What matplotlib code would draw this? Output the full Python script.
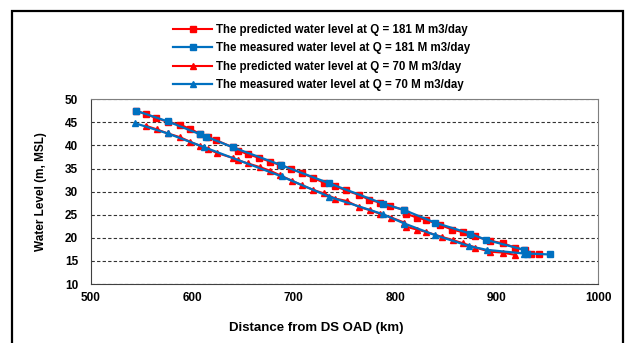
import matplotlib.pyplot as plt
from matplotlib.patches import Rectangle

# predicted / measured water level, Q = 181 M m3/day
d_pred181 = [545, 554, 564, 576, 588, 598, 608, 616, 623, 640, 645, 655, 666, 677, 686, 697, 708,
             719, 730, 741, 751, 764, 774, 785, 795, 809, 811, 821, 830, 844, 856, 867, 879, 893,
             906, 918, 928, 934, 942]
wl_pred181 = [47.5, 46.8, 46.0, 45.1, 44.5, 43.6, 42.5, 41.8, 41.2, 39.6, 38.9, 38.1, 37.3, 36.5,
              35.8, 35.0, 34.0, 33.0, 31.9, 31.2, 30.3, 29.3, 28.3, 27.6, 26.9, 26.0, 25.2, 24.4,
              23.9, 22.8, 21.8, 21.2, 20.3, 19.4, 18.8, 17.9, 17.3, 16.5, 16.5]
d_meas181 = [545, 576, 608, 614, 640, 687, 735, 788, 809, 839, 874, 889, 927, 930, 952]
wl_meas181 = [47.5, 45.2, 42.4, 41.9, 39.6, 35.8, 31.8, 27.4, 26.0, 23.3, 20.9, 19.6, 17.4, 16.6, 16.4]

# Q = 70 M m3/day
d_pred70 = [554, 565, 576, 588, 598, 608, 616, 624, 640, 645, 655, 667, 677, 686, 698, 708, 719,
            730, 741, 752, 764, 775, 785, 796, 809, 811, 821, 830, 846, 857, 867, 879, 893, 906, 918]
wl_pred70 = [44.3, 43.5, 42.6, 41.8, 40.8, 39.9, 39.2, 38.4, 37.3, 36.8, 36.1, 35.3, 34.5, 33.6,
             32.4, 31.4, 30.4, 29.6, 28.5, 28.0, 26.7, 26.0, 25.2, 24.4, 23.3, 22.4, 21.8, 21.3,
             20.2, 19.5, 18.8, 17.9, 17.0, 16.8, 16.3]
d_meas70 = [544, 576, 612, 688, 735, 788, 809, 839, 873, 890, 927]
wl_meas70 = [44.8, 42.6, 39.6, 33.3, 28.9, 25.1, 23.1, 20.6, 18.2, 17.4, 16.6]

labels = ['The predicted water level at Q = 181 M m3/day',
          'The measured water level at Q = 181 M m3/day',
          'The predicted water level at Q = 70 M m3/day',
          'The measured water level at Q = 70 M m3/day']

red = '#FF0000'
blue = '#0070C0'

plt.rcParams['font.family'] = ['Liberation Sans', 'DejaVu Sans']
plt.rcParams['font.weight'] = 'bold'

fig = plt.figure(figsize=(6.28, 3.43), dpi=100)
fig.patches.append(Rectangle((12 / 628, -0.1), 611 / 628, 1.1 - 11 / 343, transform=fig.transFigure,
                             fill=False, edgecolor='black', linewidth=1.6))

ax = fig.add_axes([0.1444, 0.172, 0.8083, 0.5385])
l1, = ax.plot(d_pred181, wl_pred181, color=red, marker='s', markersize=5, linewidth=1.5)
l3, = ax.plot(d_pred70, wl_pred70, color=red, marker='^', markersize=5, linewidth=1.5)
l2, = ax.plot(d_meas181, wl_meas181, color=blue, marker='s', markersize=3.8, linewidth=1.6)
l4, = ax.plot(d_meas70, wl_meas70, color=blue, marker='^', markersize=3.8, linewidth=1.6)

ax.set_xlim(500, 1000)
ax.set_ylim(10, 50)
ax.set_xticks(range(500, 1001, 100))
ax.set_yticks(range(10, 51, 5))
ax.tick_params(length=0, labelsize=8.5)
ax.tick_params(axis='x', pad=6)
ax.tick_params(axis='y', pad=9)
ax.yaxis.grid(True, linestyle=(0, (3, 2)), color='#333333', linewidth=0.8)
for s in ax.spines.values():
    s.set_color('#7f7f7f')
ax.spines['left'].set_color('#404040')
ax.spines['bottom'].set_color('#404040')
ax.set_xlabel('Distance from DS OAD (km)', fontsize=9.5, fontweight='bold', va='center')
ax.xaxis.set_label_coords(0.444, -0.237)
ax.set_ylabel('Water Level (m, MSL)', fontsize=8.5, fontweight='bold', va='center')
ax.yaxis.set_label_coords(-0.098, 0.5)

fig.legend([l1, l2, l3, l4], labels, loc='upper left', bbox_to_anchor=(173 / 628, 1 - 24 / 343),
           frameon=False, fontsize=8.3, borderpad=0, labelspacing=0.55, handlelength=3.4,
           handletextpad=0.35, borderaxespad=0)

plt.savefig('out.png')
